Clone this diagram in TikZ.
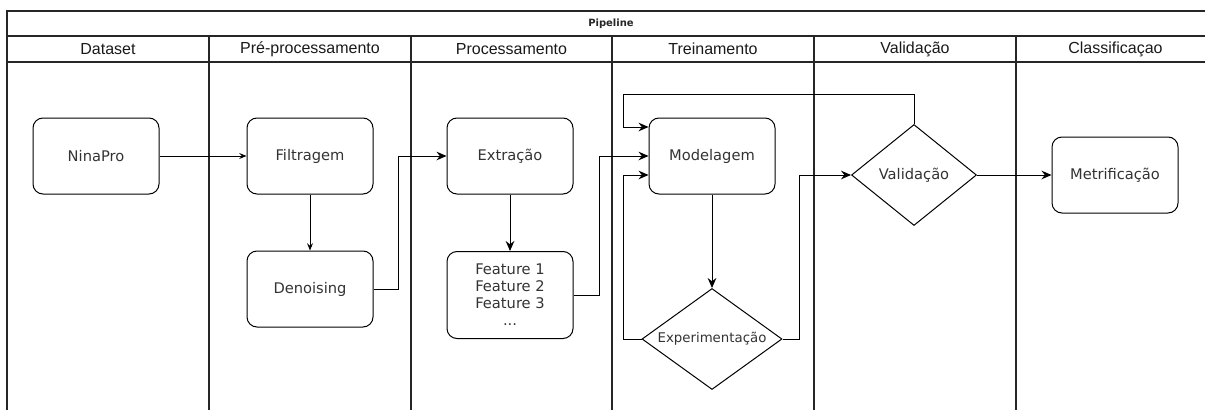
\documentclass[tikz,border=0pt]{standalone}
\usepackage{fontspec}
\setmainfont{DejaVu Sans}
\newfontfamily\headfont{Liberation Sans}
\usetikzlibrary{arrows.meta,shapes.geometric}

\begin{document}
\begin{tikzpicture}[
  x=0.75pt, y=-0.75pt,
  lane/.style={draw=black!85,line width=1.1pt},
  lanehead/.style={font=\headfont\fontsize{12}{14}\selectfont,text=black!90},
  box/.style={draw,rounded corners=7.5pt,align=center,minimum width=94.5pt,
              minimum height=57pt,line width=0.75pt,text=black!80,
              font=\fontsize{11}{12.75}\selectfont},
  decision/.style={draw,diamond,aspect=1.39,inner sep=0pt,align=center,line width=0.75pt,
              text=black!80,font=\fontsize{11}{12.75}\selectfont},
  arrow/.style={-{Stealth[length=7.5pt,width=6.5pt,inset=2.5pt]},line width=0.75pt},
  arrowsm/.style={-{Stealth[length=5.5pt,width=4.5pt,inset=2pt]},line width=0.75pt}
]
\useasboundingbox (0,0) rectangle (1205,410);
% swimlanes
\draw[lane] (7,410) -- (7,11) -- (1215,11) -- (1215,410);
\draw[lane] (7,36) -- (1215,36);
\draw[lane] (7,62) -- (1215,62);
\foreach \x in {209,411,612,814,1016}
  \draw[lane] (\x,36) -- (\x,410);
\node[font=\bfseries\fontsize{7.5}{9}\selectfont,text=black!85] (title) at (611,24) {Pipeline};
\node[lanehead] (hdata) at (108,49) {Dataset};
\node[lanehead] (hpre) at (310,49) {Pré-processamento};
\node[lanehead] (hproc) at (511.5,49) {Processamento};
\node[lanehead] (htrain) at (713,49) {Treinamento};
\node[lanehead] (hval) at (915,49) {Validação};
\node[lanehead] (hclass) at (1115.5,49) {Classificaçao};
% steps
\node[box] (nina) at (96,156) {NinaPro};
\node[box] (filt) at (310,156) {Filtragem};
\node[box] (deno) at (310,289) {Denoising};
\node[box] (extr) at (510,156) {Extração};
\node[box,minimum height=65.25pt] (feat) at (510,295) {Feature 1\\Feature 2\\Feature 3\\...};
\node[box] (model) at (712,156) {Modelagem};
\node[decision,minimum width=105pt,minimum height=75.75pt,font=\fontsize{10}{12}\selectfont] (exper) at (712,339) {\makebox[0pt]{Experimentação}};
\node[decision,minimum width=93.75pt,minimum height=75.75pt] (valid) at (914,175) {Validação};
\node[box] (metric) at (1115,175) {Metrificação};
\coordinate (mtop) at ([yshift=21.75pt]model.west);
\coordinate (mbot) at ([yshift=-14.25pt]model.west);
% connectors
\draw[arrowsm] (nina) -- (filt);
\draw[arrowsm] (filt) -- (deno);
\draw[arrow] (deno.east) -- ++(25,0) |- (extr.west);
\draw[arrow] (extr) -- (feat);
\draw[arrow] (feat.east) -- ++(26,0) |- (model.west);
\draw[arrow] (model) -- (exper);
\draw[arrow] (exper.west) -| ([xshift=-18.75pt]mbot) -- (mbot);
\draw[arrow] (exper.east) -- ++(17,0) |- (valid.west);
\draw[arrow] (valid.north) -- ++(0,-30) -| ([xshift=-18.75pt]mtop) -- (mtop);
\draw[arrow] (valid) -- (metric);
\end{tikzpicture}
\end{document}
